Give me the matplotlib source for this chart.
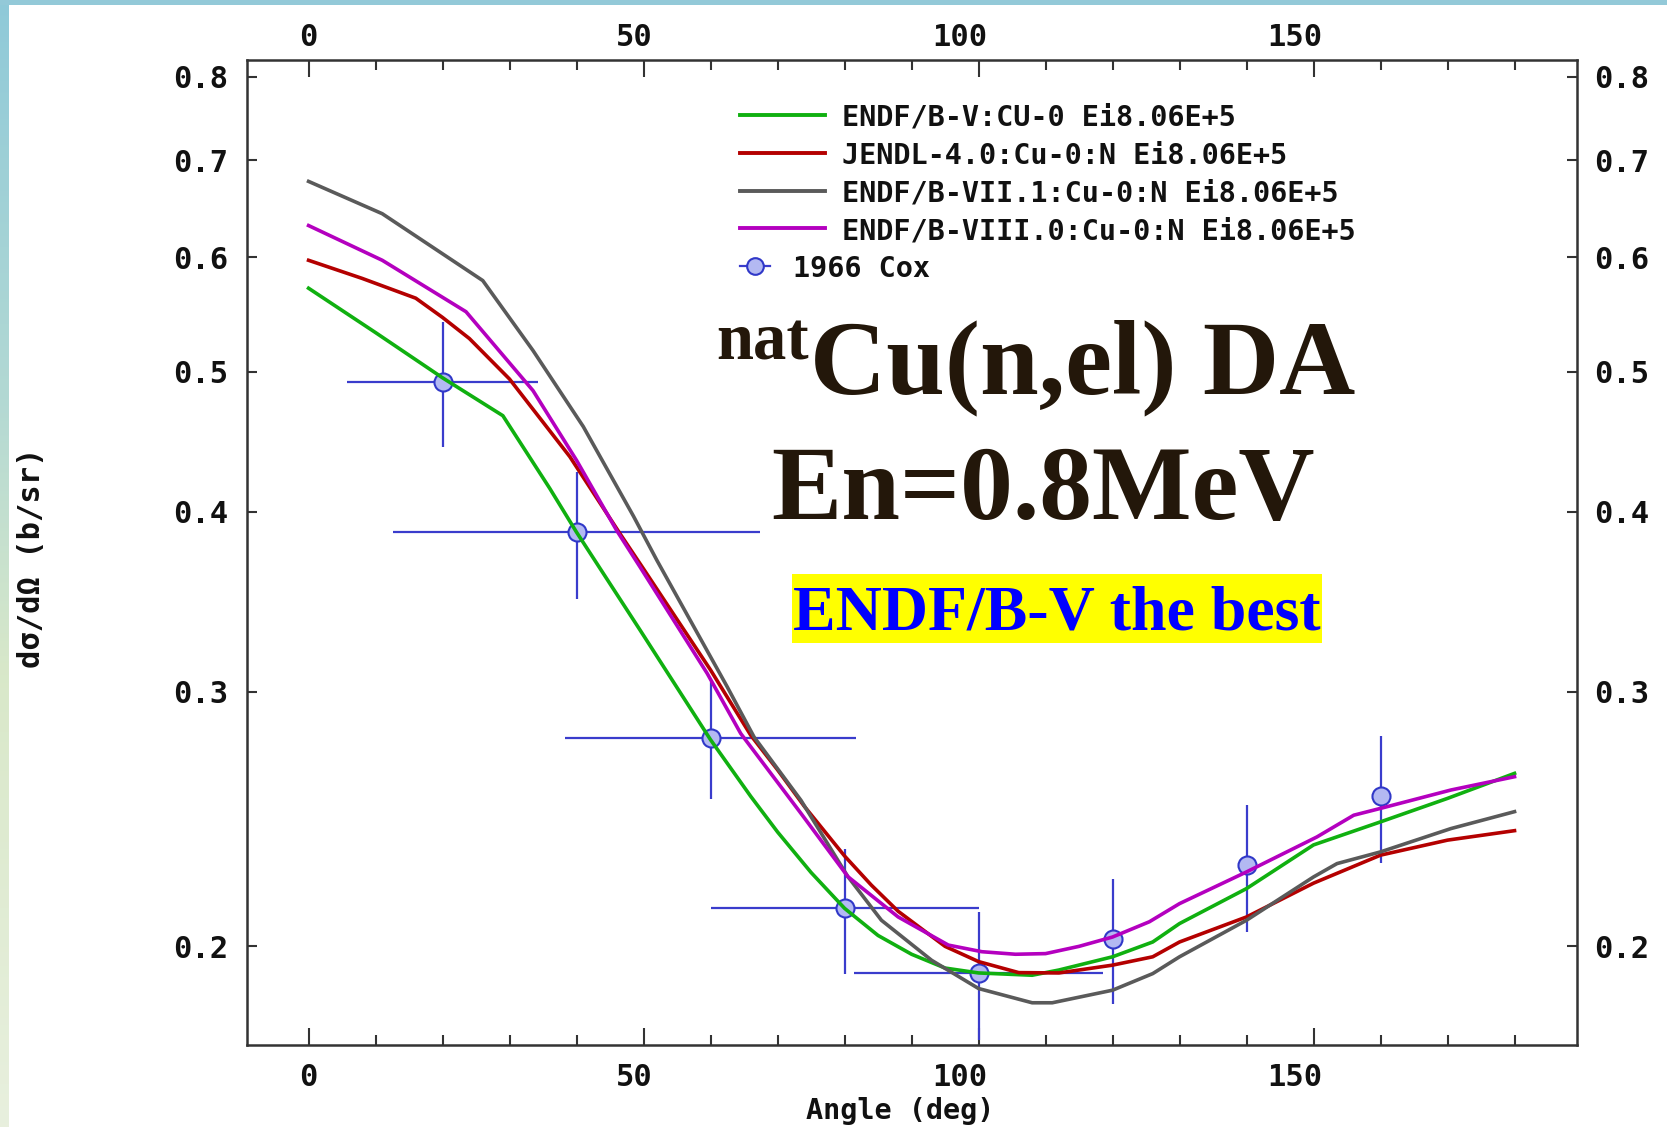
import numpy as np
import matplotlib
matplotlib.use("Agg")
import matplotlib.pyplot as plt
from matplotlib.ticker import FixedLocator, NullLocator, FixedFormatter, MultipleLocator
from matplotlib.patches import Rectangle
from matplotlib.lines import Line2D
from matplotlib.transforms import offset_copy

# ---------------- data ----------------
green_ang = [0, 10, 20, 29, 36, 40, 49.5, 60, 66, 70, 75, 80, 85, 90, 95, 100,
             108, 112, 120, 126, 130, 140, 150, 160, 170, 180]
green_val = [0.571, 0.532, 0.495, 0.466, 0.415, 0.387, 0.331, 0.278, 0.254, 0.240,
             0.225, 0.2125, 0.2035, 0.1975, 0.1932, 0.1917, 0.1910, 0.1926, 0.1967,
             0.2014, 0.2074, 0.2193, 0.2351, 0.2439, 0.2532, 0.2635]

red_ang = [0, 8, 16, 20, 24, 30, 39, 46.5, 50, 60, 66, 70, 74, 80, 84, 88, 95, 100,
           106, 112, 120, 126, 130, 140, 150, 160, 170, 180]
red_val = [0.597, 0.580, 0.562, 0.545, 0.527, 0.494, 0.4365, 0.386, 0.365, 0.3107,
           0.280, 0.265, 0.250, 0.231, 0.2205, 0.2115, 0.200, 0.1952, 0.1918, 0.1917,
           0.1941, 0.1967, 0.2014, 0.2096, 0.2212, 0.2313, 0.2369, 0.2405]

gray_ang = [0, 11, 26, 33.5, 41, 48.5, 52, 62.5, 66.5, 73.5, 80.5, 85.5, 93, 100,
            108, 111, 120, 126, 130, 140, 150, 153.5, 160, 170.5, 180]
gray_val = [0.677, 0.643, 0.578, 0.517, 0.458, 0.397, 0.370, 0.3024, 0.2792, 0.2524,
            0.2235, 0.2085, 0.1956, 0.187, 0.1828, 0.1828, 0.1865, 0.1915, 0.1967,
            0.2085, 0.2234, 0.2282, 0.2325, 0.2413, 0.2479]

mag_ang = [0, 11, 23.5, 33.5, 40, 46, 49.5, 59.5, 64.5, 73.5, 80.5, 88, 95.5, 100.5,
           105.5, 110, 115, 120, 125.5, 130, 140, 150.5, 156, 160, 170.5, 180]
mag_val = [0.631, 0.597, 0.550, 0.485, 0.434, 0.388, 0.366, 0.309, 0.2808, 0.2472,
           0.2235, 0.2096, 0.2004, 0.1983, 0.1975, 0.1977, 0.200, 0.203, 0.208, 0.2141,
           0.2252, 0.2381, 0.2465, 0.2492, 0.2566, 0.2621]

cox_ang = [20, 40, 60, 80, 100, 120, 140, 160]
cox_val = [0.492, 0.387, 0.279, 0.2125, 0.1917, 0.2025, 0.2276, 0.2541]
cox_yerr = [0.049, 0.039, 0.026, 0.021, 0.0195, 0.020, 0.023, 0.0257]
cox_xerr = [14.2, 27.4, 21.75, 20.0, 18.6, 0, 0, 0]

series_labels = ["ENDF/B-V:CU-0 Ei8.06E+5",
                 "JENDL-4.0:Cu-0:N Ei8.06E+5",
                 "ENDF/B-VII.1:Cu-0:N Ei8.06E+5",
                 "ENDF/B-VIII.0:Cu-0:N Ei8.06E+5"]
cox_label = "1966 Cox"

x_major = [0, 50, 100, 150]
x_ticklabels = ["0", "50", "100", "150"]
y_ticks = [0.2, 0.3, 0.4, 0.5, 0.6, 0.7, 0.8]
y_ticklabels = ["0.2", "0.3", "0.4", "0.5", "0.6", "0.7", "0.8"]

colors = ["#10b010", "#b40000", "#5a5a5a", "#b400bf"]

# ---------------- figure ----------------
W, H = 1667, 1127
fig = plt.figure(figsize=(W / 100, H / 100), dpi=100)
fig.patch.set_facecolor("white")


def fx(px):
    return px / W


def fy(py):
    return 1 - py / H


# slide decoration: gradient strip on the left, thin band on top
bg = fig.add_axes([0, 0, 1, 1], zorder=-10)
bg.axis("off")
stops_y = np.array([0.0, 0.35, 0.6, 1.0])
stops_c = np.array([[0.56, 0.79, 0.85],
                    [0.70, 0.85, 0.83],
                    [0.85, 0.91, 0.79],
                    [0.91, 0.94, 0.87]])
yy = np.linspace(0, 1, 256)
grad = np.stack([np.interp(yy, stops_y, stops_c[:, k]) for k in range(3)], axis=-1)[:, None, :]
bg.imshow(grad, extent=(0, 9, H, 0), aspect="auto", interpolation="bilinear")
bg.add_patch(Rectangle((0, 0), W, 5, color="#93c9d8", lw=0))
bg.set_xlim(0, W)
bg.set_ylim(H, 0)

mono = "DejaVu Sans Mono"
serif = "Liberation Serif"
ink = "#111111"

ax = fig.add_axes([fx(246.6), fy(1045), (1576.5 - 246.6) / W, (1045 - 59.5) / H])
ax.set_yscale("log")
ax.set_xlim(-9.25, 189.25)
ax.set_ylim(0.1709, 0.8222)

# experimental points beneath the evaluations
ax.errorbar(cox_ang, cox_val, xerr=cox_xerr, yerr=cox_yerr, fmt="o", ms=13,
            mfc="#b3b9f2", mec="#3038c8", mew=1.5, ecolor="#3a3ccc",
            elinewidth=1.6, capsize=0, zorder=2)

curves = [(green_ang, green_val), (red_ang, red_val), (gray_ang, gray_val), (mag_ang, mag_val)]
for i, (a, v) in enumerate(curves):
    ax.plot(a, v, color=colors[i], lw=2.6, zorder=3 + i, solid_joinstyle="round")

# ticks
ax.xaxis.set_major_locator(FixedLocator(x_major))
ax.xaxis.set_minor_locator(MultipleLocator(10))
ax.yaxis.set_major_locator(FixedLocator(y_ticks))
ax.yaxis.set_major_formatter(FixedFormatter(y_ticklabels))
ax.yaxis.set_minor_locator(NullLocator())
ax.tick_params(which="both", direction="in", top=True, right=True,
               labelbottom=False, labeltop=False, labelleft=True, labelright=True,
               color="#333333", width=1.5)
ax.tick_params(axis="x", which="major", length=12)
ax.tick_params(axis="x", which="minor", length=7)
ax.tick_params(axis="y", which="major", length=7, pad=13)
for lab in ax.get_yticklabels():
    lab.set_fontfamily(mono)
    lab.set_fontweight("bold")
    lab.set_fontsize(22)
    lab.set_color(ink)
for sp in ax.spines.values():
    sp.set_color("#333333")
    sp.set_linewidth(1.8)

# angle labels: right edge sits half a character past the tick, top and bottom
xtrans = ax.get_xaxis_transform()
bot_trans = offset_copy(xtrans, fig=fig, x=9, y=-18, units="dots")
top_trans = offset_copy(xtrans, fig=fig, x=9, y=14, units="dots")
for v, s in zip(x_major, x_ticklabels):
    ax.text(v, 0, s, transform=bot_trans, ha="right", va="top", family=mono,
            weight="bold", fontsize=22, color=ink, clip_on=False)
    ax.text(v, 1, s, transform=top_trans, ha="right", va="baseline", family=mono,
            weight="bold", fontsize=22, color=ink, clip_on=False)

# axis titles
fig.text(fx(900), fy(1111), "Angle (deg)", ha="center", va="center",
         family=mono, weight="bold", fontsize=20.5, color=ink)
fig.text(fx(32), fy(558), "d\u03c3/d\u03a9 (b/sr)", ha="center", va="center",
         rotation=90, family=mono, weight="bold", fontsize=22, color=ink)

# legend
row_y = [115, 153, 191, 228, 266]
for i, lab in enumerate(series_labels):
    fig.add_artist(Line2D([fx(739.5), fx(824.5)], [fy(row_y[i]), fy(row_y[i])],
                          color=colors[i], lw=2.8))
    fig.text(fx(841.5), fy(row_y[i]), lab, ha="left", va="center_baseline",
             family=mono, weight="bold", fontsize=20.5, color=ink)
fig.add_artist(Line2D([fx(740), fx(770)], [fy(row_y[4]), fy(row_y[4])],
                      color="#3a3ccc", lw=1.6))
fig.add_artist(Line2D([fx(755)], [fy(row_y[4])], marker="o", ms=12,
                      mfc="#b3b9f2", mec="#3038c8", mew=1.5, ls="none"))
fig.text(fx(792.5), fy(row_y[4]), cox_label, ha="left", va="center_baseline",
         family=mono, weight="bold", fontsize=20.5, color=ink)

# reaction annotation
title_col = "#23170a"
fig.text(fx(716), fy(360), "nat", ha="left", va="baseline", family=serif,
         weight="bold", fontsize=48, color=title_col)
fig.text(fx(810), fy(393), "Cu(n,el) DA", ha="left", va="baseline", family=serif,
         weight="bold", fontsize=76, color=title_col)
fig.text(fx(1042.5), fy(519), "En=0.8MeV", ha="center", va="baseline", family=serif,
         weight="bold", fontsize=76, color=title_col)
fig.add_artist(Rectangle((fx(792), fy(643)), fx(1322) - fx(792), fy(574) - fy(643),
                         transform=fig.transFigure, fc="#ffff00", ec="none", zorder=5))
fig.text(fx(1057), fy(630), "ENDF/B-V the best", ha="center", va="baseline",
         family=serif, weight="bold", fontsize=46, color="#0000ff", zorder=6)

fig.savefig("out.png", dpi=100)
